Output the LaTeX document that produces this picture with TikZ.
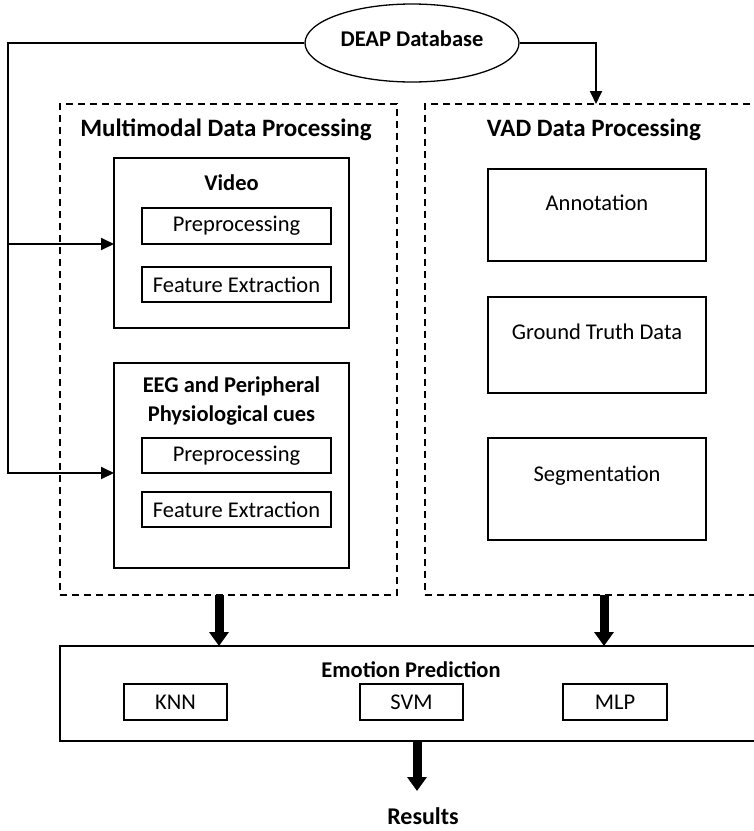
\documentclass[tikz,border=0pt]{standalone}
\usepackage{fontspec}
\setmainfont{Carlito}
\usetikzlibrary{arrows.meta,shapes.geometric}
\newcommand\txtf{\fontsize{22.5}{27}\selectfont}
\newcommand\secf{\fontsize{25}{30}\selectfont\bfseries}
\newcommand\subf{\fontsize{22.5}{29}\selectfont\bfseries}
\begin{document}
\begin{tikzpicture}[x=1pt,y=-1pt,
  solidbox/.style={draw,line width=1.3pt,inner sep=0pt,font=\txtf},
  dashbox/.style={draw,line width=1.2pt,dash pattern=on 7pt off 5pt,inner sep=0pt},
  conn/.style={line width=1.8pt,-{Triangle[width=12pt,length=13pt]}},
  bigarrow/.style={line width=9pt,-{Triangle[width=19pt,length=14pt]}},
  sectitle/.style={font=\secf,inner sep=0pt},
  subtitle/.style={font=\subf,inner sep=0pt,align=center}]
\clip (0,0) rectangle (754,831);
\fill[white] (0,0) rectangle (754,831);

% database
\node[draw,ellipse,line width=1.3pt,minimum width=214pt,minimum height=78pt,inner sep=0pt,font=\subf] (deap) at (412,43) {\raisebox{9pt}{DEAP Database}};

% dashed groups
\node[dashbox,minimum width=337pt,minimum height=491pt] (L) at (228.5,349.5) {};
\node[dashbox,minimum width=355pt,minimum height=491pt] (R) at (602.5,349.5) {};
\node[sectitle] (Lt) at (226,130) {Multimodal Data Processing};
\node[sectitle] (Rt) at (594,130) {VAD Data Processing};

% video
\node[solidbox,minimum width=235pt,minimum height=170pt] (V) at (231.5,243) {};
\node[subtitle] (Vt) at (231.5,183) {Video};
\node[solidbox,minimum width=189pt,minimum height=36pt] (VP) at (236.5,226) {Preprocessing};
\node[solidbox,minimum width=189pt,minimum height=35pt] (VF) at (236.5,284.5) {Feature Extraction};

% EEG
\node[solidbox,minimum width=235pt,minimum height=205pt] (E) at (231.5,465.5) {};
\node[subtitle] (Et) at (231.5,401.5) {EEG and Peripheral\\Physiological cues};
\node[solidbox,minimum width=189pt,minimum height=35pt] (EP) at (236.5,455.5) {Preprocessing};
\node[solidbox,minimum width=189pt,minimum height=35pt] (EF) at (236.5,509.5) {Feature Extraction};

% VAD boxes
\node[solidbox,minimum width=218pt,minimum height=92pt,label={[font=\txtf,yshift=12pt]center:Annotation}] (A) at (597,215) {};
\node[solidbox,minimum width=218pt,minimum height=96pt,label={[font=\txtf,yshift=13pt]center:Ground Truth Data}] (G) at (597,345) {};
\node[solidbox,minimum width=218pt,minimum height=102pt,label={[font=\txtf,yshift=13pt]center:Segmentation}] (S) at (597,489) {};

% emotion prediction
\node[solidbox,minimum width=720pt,minimum height=95pt] (EM) at (420,693.5) {};
\node[subtitle] (EMt) at (411,670) {Emotion Prediction};
\node[solidbox,minimum width=103pt,minimum height=36pt] (K) at (175.5,702) {KNN};
\node[solidbox,minimum width=103pt,minimum height=36pt] (SV) at (411.5,702) {SVM};
\node[solidbox,minimum width=104pt,minimum height=36pt] (M) at (615,702) {MLP};

\node[font=\fontsize{24}{28}\selectfont\bfseries,inner sep=0pt,anchor=base] (res) at (423,824) {Results};

% connectors
\coordinate (jb) at (8,473);
\coordinate (jv) at (8,244);
\coordinate (ein) at (114,473);
\coordinate (vin) at (114,244);
\coordinate (rin) at (596,104);
\draw[conn] (deap.west) -| (jb) -- (ein);
\draw[conn] (jv) -- (vin);
\draw[conn] (deap.east) -| (rin);

\coordinate (la) at (219,595);
\coordinate (lb) at (219,646);
\coordinate (ra) at (604,595);
\coordinate (rb) at (604,646);
\coordinate (ea) at (417,741);
\coordinate (eb) at (417,791);
\draw[bigarrow] (la) -- (lb);
\draw[bigarrow] (ra) -- (rb);
\draw[bigarrow] (ea) -- (eb);
\end{tikzpicture}
\end{document}
